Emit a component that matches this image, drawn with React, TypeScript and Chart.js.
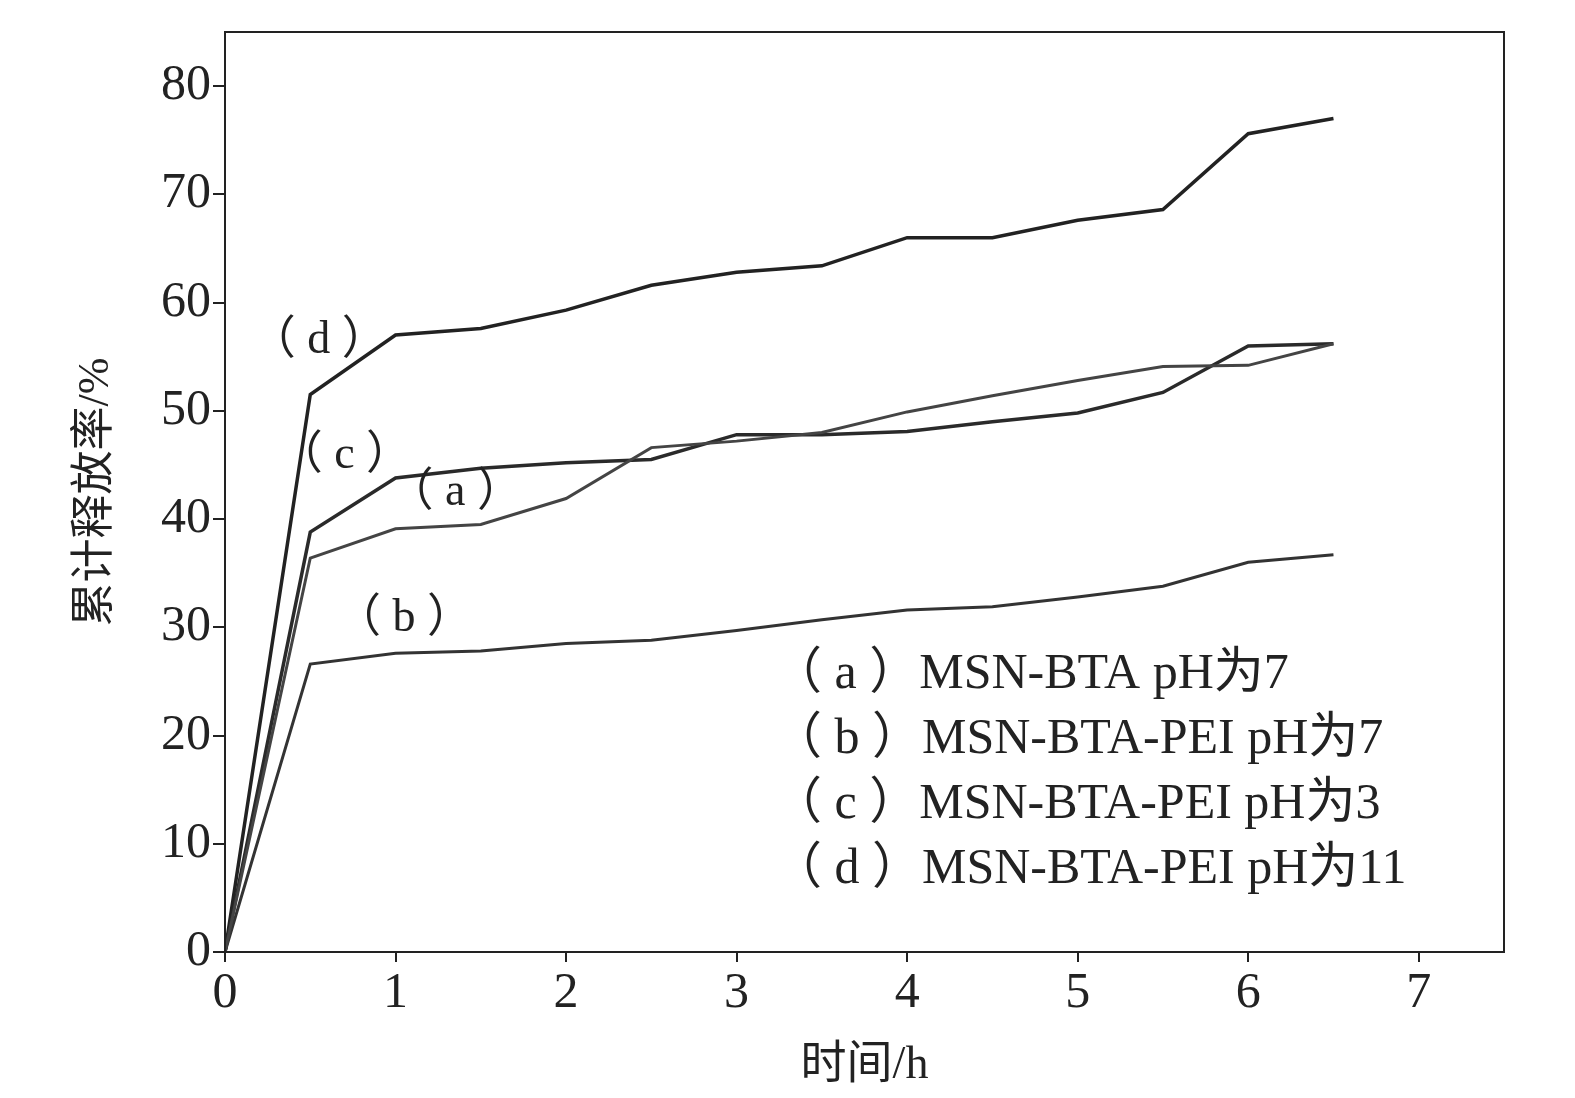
import React, { useEffect, useRef } from "react";
import { Chart, registerables } from "chart.js";
Chart.register(...registerables);

const times = [0, 0.5, 1, 1.5, 2, 2.5, 3, 3.5, 4, 4.5, 5, 5.5, 6, 6.5];
const seriesA = [0, 36.4, 39.1, 39.5, 41.9, 46.6, 47.2, 48, 49.9, 51.4, 52.8, 54.1, 54.2, 56.2];
const seriesB = [0, 26.6, 27.6, 27.8, 28.5, 28.8, 29.7, 30.7, 31.6, 31.9, 32.8, 33.8, 36, 36.7];
const seriesC = [0, 38.8, 43.8, 44.7, 45.2, 45.5, 47.8, 47.8, 48.1, 49, 49.8, 51.7, 56, 56.2];
const seriesD = [0, 51.5, 57, 57.6, 59.3, 61.6, 62.8, 63.4, 66, 66, 67.6, 68.6, 75.6, 77];
const legendLines = [
  "（ a ）MSN-BTA pH为7",
  "（ b ）MSN-BTA-PEI pH为7",
  "（ c ）MSN-BTA-PEI pH为3",
  "（ d ）MSN-BTA-PEI pH为11",
];
const curveLabels = [
  { t: "（ d ）", x: 0.55, y: 56.5 },
  { t: "（ c ）", x: 0.7, y: 45.8 },
  { t: "（ a ）", x: 1.35, y: 42.4 },
  { t: "（ b ）", x: 1.05, y: 30.8 },
];

const FONT = "'Liberation Serif', 'Noto Sans CJK SC', serif";

export default function App() {
  const ref = useRef<HTMLCanvasElement>(null);
  useEffect(() => {
    const mk = (d: number[], w: number, c: string) => ({
      data: times.map((t, i) => ({ x: t, y: d[i] })),
      borderColor: c, borderWidth: w, pointRadius: 0, tension: 0, fill: false,
    });
    const overlay = {
      id: "overlay",
      afterDraw(chart: any) {
        const { ctx, chartArea: a, scales } = chart;
        ctx.save();
        ctx.strokeStyle = "#222";
        ctx.lineWidth = 2;
        ctx.strokeRect(a.left, a.top, a.right - a.left, a.bottom - a.top);
        ctx.fillStyle = "#222";
        ctx.font = `46px ${FONT}`;
        ctx.textBaseline = "middle";
        ctx.textAlign = "center";
        for (const l of curveLabels) ctx.fillText(l.t, scales.x.getPixelForValue(l.x), scales.y.getPixelForValue(l.y));
        ctx.textAlign = "left";
        ctx.font = `50px ${FONT}`;
        legendLines.forEach((s, i) => ctx.fillText(s, 772, 675 + i * 65));
        ctx.restore();
      },
    };
    const chart = new Chart(ref.current!, {
      type: "line",
      data: {
        datasets: [
          mk(seriesA, 3, "#444"),
          mk(seriesB, 3, "#333"),
          mk(seriesC, 3.5, "#2a2a2a"),
          mk(seriesD, 3.5, "#222"),
        ],
      },
      options: {
        animation: false, responsive: false,
        layout: { padding: { top: -26, right: 71, left: 0, bottom: 0 } },
        plugins: { legend: { display: false }, tooltip: { enabled: false } },
        scales: {
          x: {
            type: "linear", min: 0, max: 7.5,
            afterBuildTicks: (s: any) => { s.ticks = [0,1,2,3,4,5,6,7].map(v => ({ value: v })); },
            afterFit: (s: any) => { s.height = 146; },
            grid: { drawOnChartArea: false, tickLength: 10, color: "#222", lineWidth: 2 },
            border: { display: false },
            ticks: { color: "#222", font: { family: FONT, size: 50 }, padding: 2, maxRotation: 0 },
            title: { display: true, text: "时间/h", color: "#222", font: { family: FONT, size: 46 }, padding: { top: 0 } },
          },
          y: {
            min: 0, max: 85,
            afterBuildTicks: (s: any) => { s.ticks = [0,10,20,30,40,50,60,70,80].map(v => ({ value: v })); },
            afterFit: (s: any) => { s.width = 225; },
            grid: { drawOnChartArea: false, tickLength: 12, color: "#222", lineWidth: 2 },
            border: { display: false },
            ticks: { color: "#222", font: { family: FONT, size: 50 }, padding: 2 },
            title: { display: true, text: "累计释放率/%", color: "#222", font: { family: FONT, size: 44 }, padding: { top: 70, bottom: 8 } },
          },
        },
      },
      plugins: [overlay],
    } as any);
    return () => chart.destroy();
  }, []);
  return (
    <div style={{ position: "fixed", left: 0, top: 0, width: 1575, height: 1098, background: "#fff" }}>
      <canvas ref={ref} width={1575} height={1098} style={{ width: 1575, height: 1098 }} />
    </div>
  );
}
